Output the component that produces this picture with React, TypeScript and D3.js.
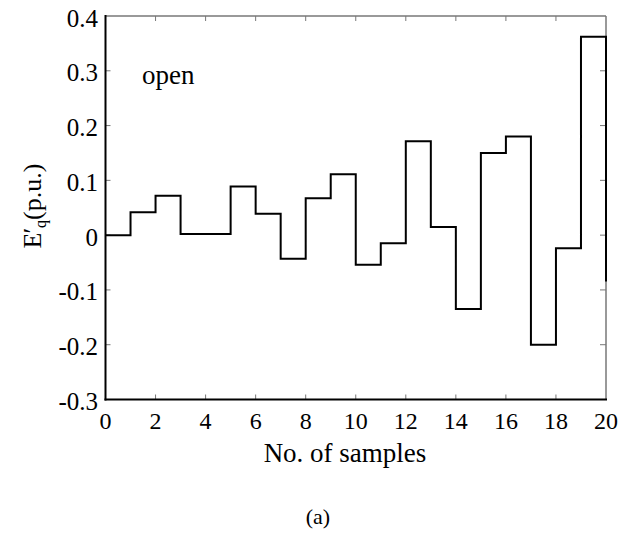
import React from "react";
import * as d3 from "d3";

const samples = [0,1,2,3,4,5,6,7,8,9,10,11,12,13,14,15,16,17,18,19,20];
const values = [0,0.042,0.072,0.002,0.002,0.089,0.039,-0.043,0.0675,0.111,-0.054,-0.015,0.1715,0.015,-0.135,0.15,0.18,-0.2,-0.024,0.362,-0.083];
const xTicks = [0,2,4,6,8,10,12,14,16,18,20];
const yTicks = [-0.3,-0.2,-0.1,0,0.1,0.2,0.3,0.4];
const yTickLabels = ["-0.3","-0.2","-0.1","0","0.1","0.2","0.3","0.4"];

export default function App() {
  const W = 634, H = 534;
  const L = 105.5, R = 606, T = 16, B = 399.5;
  const x = d3.scaleLinear().domain([0, 20]).range([L, R]);
  const y = d3.scaleLinear().domain([-0.3, 0.4]).range([B, T]);
  const pts = samples.map((s, i) => [s, values[i]] as [number, number]);
  const line = d3.line<[number, number]>().x(d => x(d[0])).y(d => y(d[1])).curve(d3.curveStepAfter);
  const path = line(pts) + `L${R + 1},${y(values[20])}`;
  const ts: React.CSSProperties = { fontFamily: "Liberation Serif, Times New Roman, DejaVu Serif, serif" };
  const gray = "#777";
  return (
    <svg width={W} height={H} style={{ position: "absolute", left: 0, top: 0, background: "#fff" }}>
      <rect x={0} y={0} width={W} height={H} fill="#fff" />
      <line x1={L} x2={R} y1={T} y2={T} stroke={gray} strokeWidth={1.5} />
      <line x1={R} x2={R} y1={T} y2={B} stroke={gray} strokeWidth={1.5} />
      {xTicks.slice(1, -1).map(t => (
        <g key={"xt" + t}>
          <line x1={x(t)} x2={x(t)} y1={T} y2={T + 5} stroke={gray} strokeWidth={1} />
          <line x1={x(t)} x2={x(t)} y1={B} y2={B - 5} stroke={gray} strokeWidth={1} />
        </g>
      ))}
      {yTicks.slice(1, -1).map(t => (
        <g key={"yt" + t}>
          <line x1={R} x2={R - 6} y1={y(t)} y2={y(t)} stroke={gray} strokeWidth={1} />
          <line x1={L} x2={L + 5} y1={y(t)} y2={y(t)} stroke={gray} strokeWidth={1} />
        </g>
      ))}
      <path d={path} fill="none" stroke="#000" strokeWidth={2} />
      <line x1={L} x2={L} y1={T - 1} y2={B + 1} stroke="#000" strokeWidth={2} />
      <line x1={L - 1} x2={R + 1} y1={B} y2={B} stroke="#000" strokeWidth={2} />
      {yTicks.map((t, i) => (
        <text key={"yl" + t} style={ts} x={98} y={y(t) + 10.5} textAnchor="end" fontSize={25} fill="#000">{yTickLabels[i]}</text>
      ))}
      {xTicks.map(t => (
        <text key={"xl" + t} style={ts} x={x(t)} y={428.5} textAnchor="middle" fontSize={24} fill="#000">{t}</text>
      ))}
      <text style={ts} x={345} y={461.5} textAnchor="middle" fontSize={27} fill="#000">No. of samples</text>
      <text style={ts} x={318} y={524} textAnchor="middle" fontSize={22} fill="#000">(a)</text>
      <text style={ts} x={142} y={83.5} fontSize={27} fill="#000">open</text>
      <text style={ts} transform={`translate(41,206) rotate(-90)`} textAnchor="middle" fontSize={26} fill="#000">
        E<tspan dx={-1}>′</tspan><tspan fontSize={16} dy={5}>q</tspan><tspan dy={-5}>(p.u.)</tspan>
      </text>
    </svg>
  );
}
